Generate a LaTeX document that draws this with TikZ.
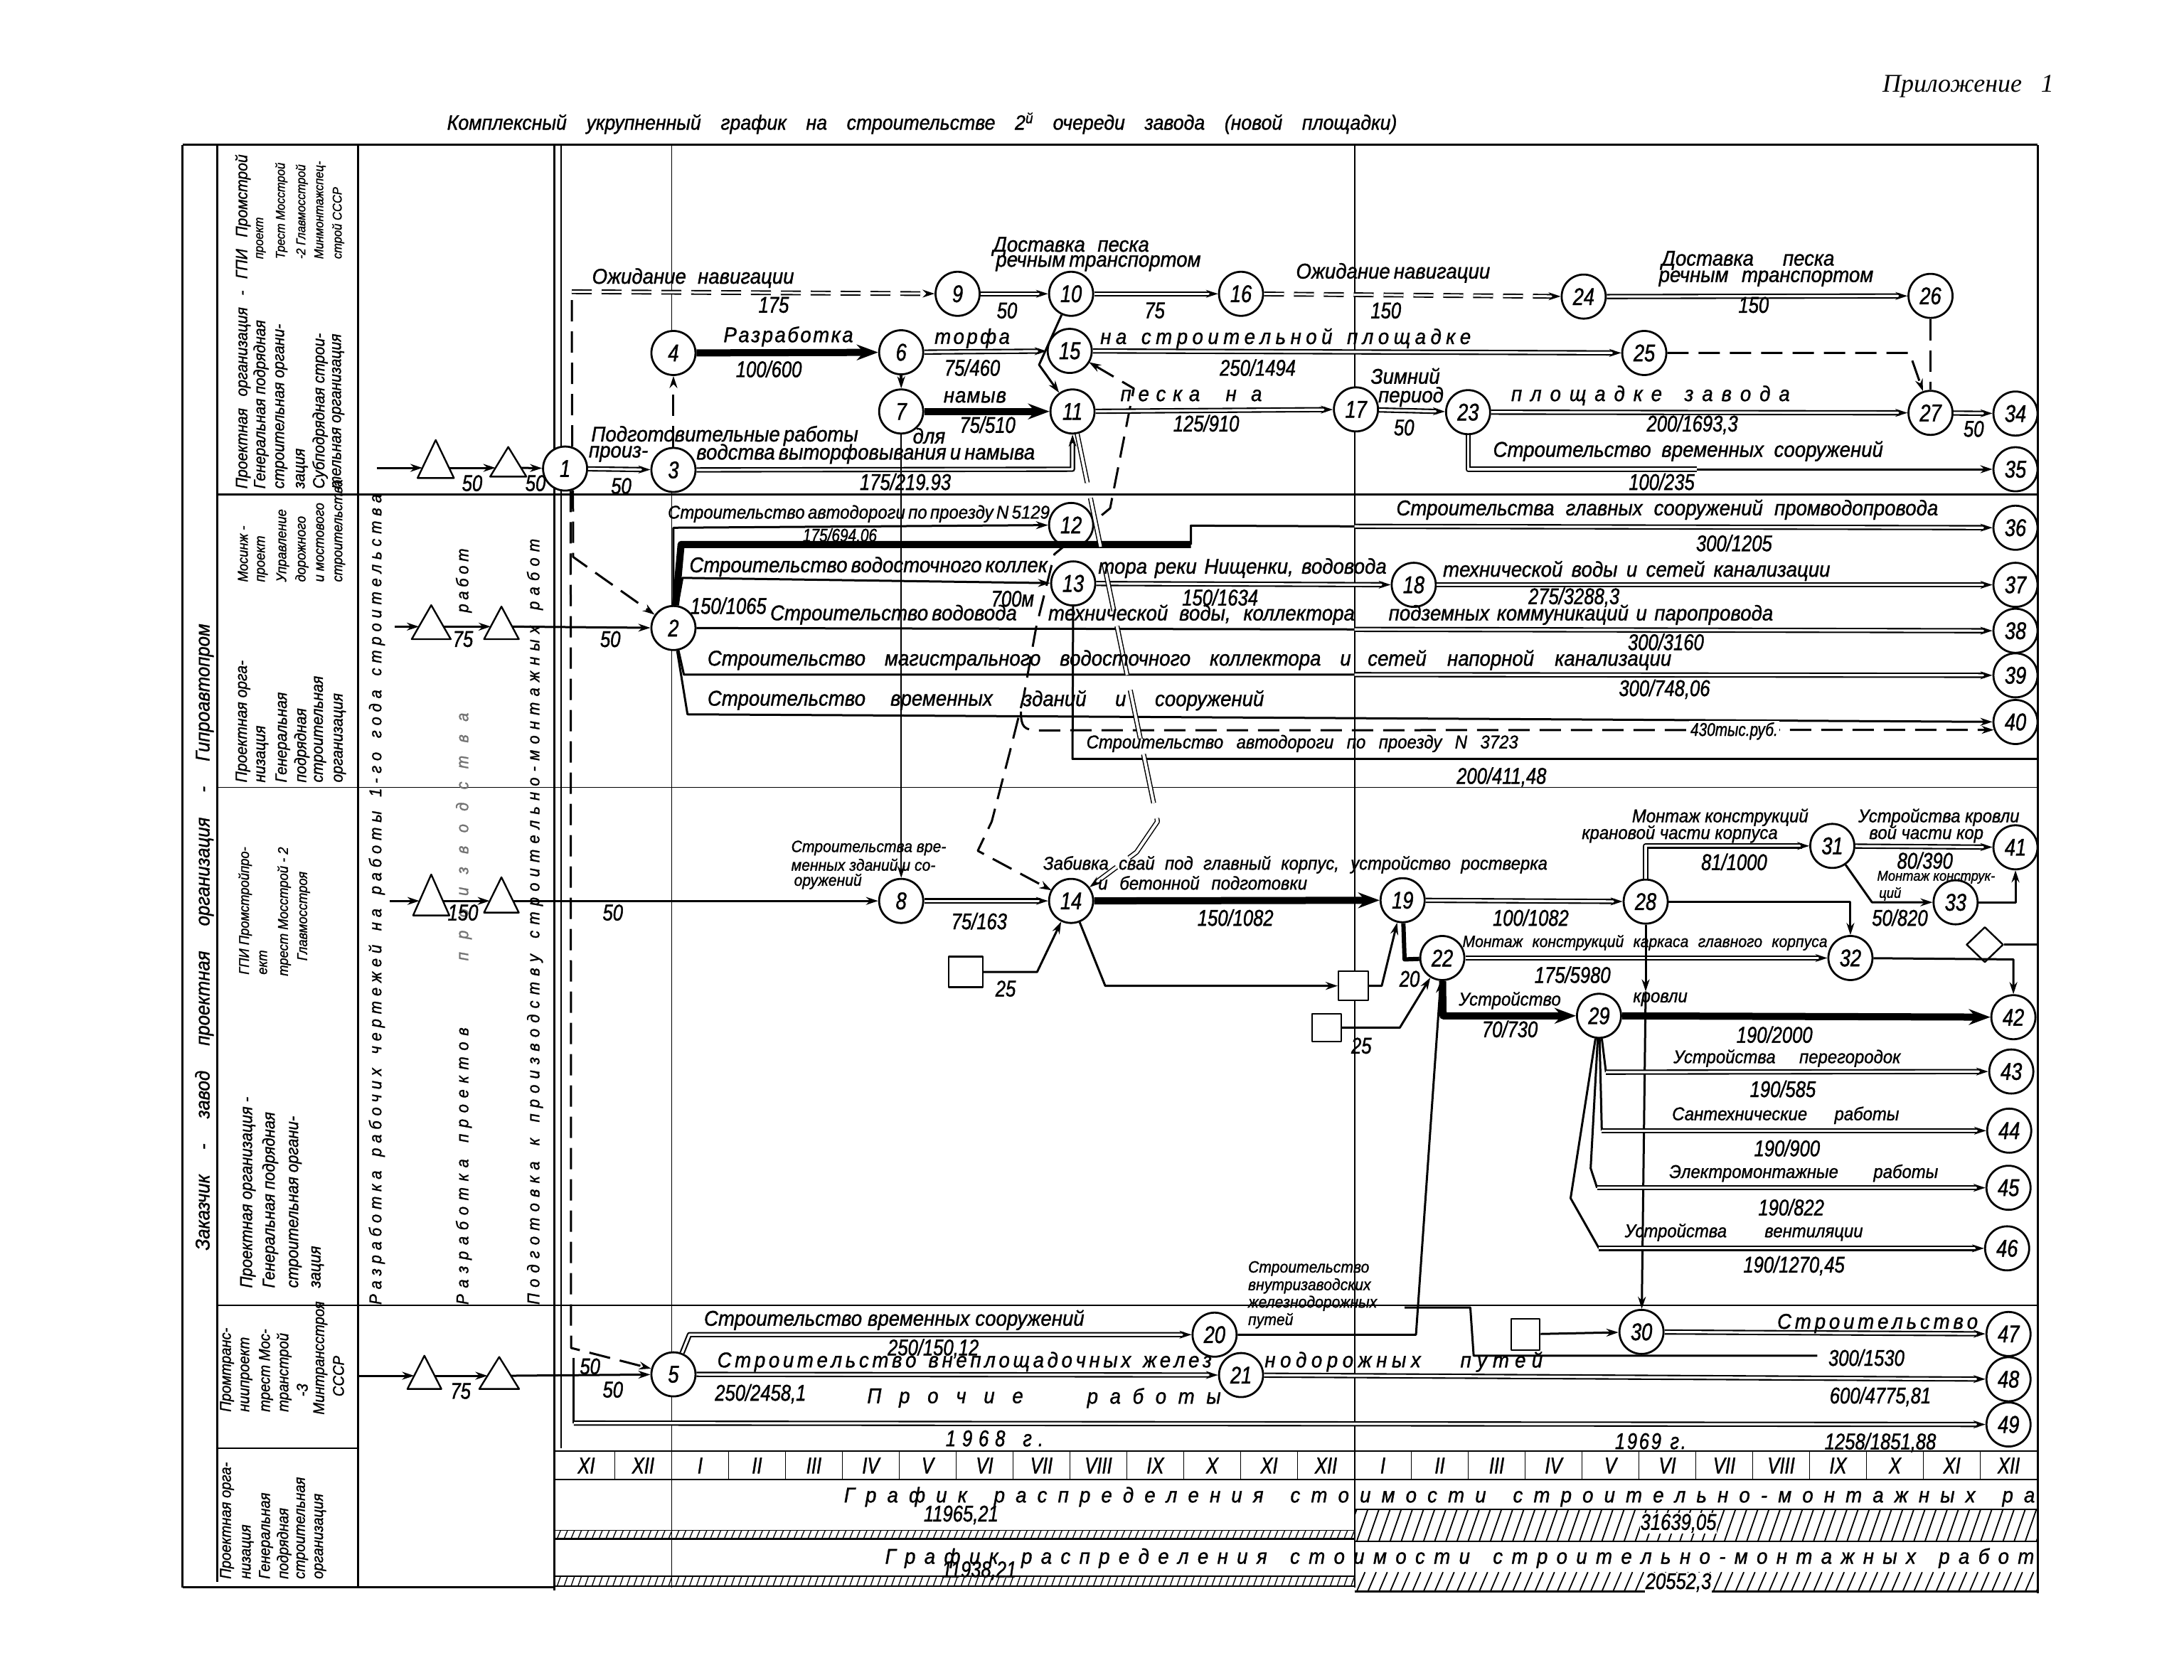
\documentclass[tikz,border=0pt]{standalone}
\usepackage{fontspec}
\usetikzlibrary{arrows.meta,shapes.geometric}
\newfontfamily\hw{Liberation Sans}[FakeStretch=0.92,FakeBold=1.2]
\newfontfamily\hn{Liberation Sans}[FakeStretch=0.8,FakeBold=1.2]
\newfontfamily\hs{Liberation Serif}
\newdimen\du \du=1.9585pt
\newcommand\Dw[2]{\makebox[#1\du][s]{#2}}
\def\lspx#1{\ifx#1\relax\else#1\hfil\expandafter\lspx\fi}
\newcommand\LS[2]{\makebox[#1\du][s]{\lspx#2\relax\unskip}}
\begin{document}
\begin{tikzpicture}[x=\du,y=-\du,line join=round,
  lb/.style={font=\hw\itshape\fontsize{30}{32}\selectfont,inner sep=0pt},
  ls/.style={font=\hw\itshape\fontsize{26}{28}\selectfont,inner sep=0pt},
  nm/.style={font=\hn\itshape\fontsize{32}{34}\selectfont,inner sep=0pt},
  nd/.style={circle,draw,line width=2.8pt,fill=white,minimum size=62pt,inner sep=0pt,font=\hn\itshape\fontsize{34}{36}\selectfont},
  org/.style={font=\hw\itshape\fontsize{23}{25}\selectfont,inner sep=0pt,rotate=90,anchor=west},
  orgs/.style={org,font=\hw\itshape\fontsize{20}{22}\selectfont},
  orgt/.style={org,font=\hw\itshape\fontsize{18}{20}\selectfont},
  orge/.style={org,font=\hw\itshape\fontsize{22}{24}\selectfont},
  ln/.style={line width=3pt},
  thn/.style={line width=1.8pt},
  frm/.style={line width=2.6pt},
  ar/.style={-{Stealth[length=17pt,width=11pt]}},
  barr/.style={-{Stealth[length=30pt,width=22pt]}},
  dbl/.style={double,line width=2.1pt,double distance=3.2pt},
  bld/.style={line width=10pt},
  dsh/.style={line width=3pt,dash pattern=on 30pt off 14pt},
  ddsh/.style={double,line width=1.9pt,double distance=3pt,dash pattern=on 28pt off 14pt},
  ddl/.style={double,line width=1.5pt,double distance=4pt,dash pattern=on 70pt off 22pt},
  bx/.style={draw,line width=2.2pt,fill=white,inner sep=0pt},
  tri/.style={draw,line width=2.4pt,fill=white}]
\useasboundingbox (0,0) rectangle (1568,1206);

% ---------------- header
\node[font=\hs\itshape\fontsize{36}{38}\selectfont,inner sep=0pt] (hdr) at (1413,62) {\Dw{123}{Приложение 1}};
\node[lb,font=\hw\itshape\fontsize{29}{31}\selectfont] (ttl) at (662,88.5) {\Dw{682}{Комплексный укрупненный график на строительстве 2\textsuperscript{й} очереди завода (новой площадки)}};

% ---------------- frame
\draw[line width=3.2pt] (131,104) -- (131,1140);
\draw[frm] (131,104) -- (1463,104);
\draw[frm] (1463,104) -- (1463,1144);
\draw[frm] (156,104) -- (156,1136);
\draw[frm] (257,104) -- (257,1140);
\draw[frm] (398,104) -- (398,1142);
\draw[thn] (403,104) -- (403,1040);
\draw[frm] (131,1140) -- (398,1140);
\draw[frm] (156,355) -- (1463,355);
\draw[thn] (156,565.5) -- (1463,565.5);
\draw[thn] (156,937.5) -- (1463,937.5);
\draw[thn] (156,1040) -- (257,1040);
% year lines
\draw[thn] (482.2,104) -- (482.2,238);
\draw[thn] (482.2,353) -- (482.2,1140);
\draw[thn] (972.5,104) -- (972.5,1140);

% month table
\draw[frm] (398,1042) -- (1463,1042);
\draw[frm] (398,1062.5) -- (1463,1062.5);
\foreach \k in {1,...,25} \draw[thn] ({400.5+\k*40.85},1042) -- ({400.5+\k*40.85},1062.5);
\foreach \m [count=\k from 0] in {XI,XII,I,II,III,IV,V,VI,VII,VIII,IX,X,XI,XII,I,II,III,IV,V,VI,VII,VIII,IX,X,XI,XII}
  \node[nm] (mo\k) at ({400.5+(\k+0.5)*40.85},1052.5) {\m};

% hatched bars
\begin{scope}
\clip (972.5,1084) rectangle (1463,1107);
\foreach \i in {0,...,62} \draw[thn] ({966+8*\i},1107) -- ({974+8*\i},1084);
\end{scope}
\draw[frm] (972.5,1107) -- (1463,1107);
\draw[thn] (972.5,1084) -- (1463,1084);
\draw[thn] (398,1099) -- (972.5,1099);
\draw[frm] (398,1105) -- (972.5,1105);
\foreach \i in {0,...,114} \draw[line width=1.3pt] ({400+5*\i},1105) -- ({402.5+5*\i},1099);
\begin{scope}
\clip (972.5,1129) rectangle (1463,1143);
\foreach \i in {0,...,62} \draw[thn] ({966+8*\i},1143) -- ({972+8*\i},1129);
\end{scope}
\draw[frm] (972.5,1143) -- (1463,1143);
\draw[thn] (398,1132) -- (972.5,1132);
\draw[frm] (398,1139) -- (972.5,1139);
\foreach \i in {0,...,114} \draw[line width=1.3pt] ({400+5*\i},1139) -- ({402.5+5*\i},1132);

% ---------------- left columns (rotated texts)
\node[org,font=\hw\itshape\fontsize{28}{30}\selectfont] (cz) at (146.7,898) {\Dw{450}{Заказчик - завод проектная организация - Гипроавтопром}};
% lane A
\node[org] (oa1) at (174.4,351) {\Dw{240}{Проектная организация - ГПИ Промстрой}};
\node[org] (oa2) at (187.4,351) {Генеральная подрядная};
\node[orgt] (oa3) at (187.4,186) {проект};
\node[org] (oa4) at (202,351) {строительная органи-};
\node[orgt] (oa5) at (202,186) {Трест Мосстрой};
\node[org] (oa6) at (216.7,351) {зация};
\node[orgt] (oa7) at (216.7,186) {-2 Главмосстрой};
\node[org] (oa8) at (229.8,351) {Субподрядная строи-};
\node[orgt] (oa9) at (229.8,186) {Минмонтажспец-};
\node[org] (oa10) at (242.8,351) {тельная организация};
\node[orgt] (oa11) at (242.8,186) {строй СССР};
% lane B
\node[org] (ob1) at (174.4,562) {Проектная орга-};
\node[orgs] (ob2) at (174.4,418) {Мосинж -};
\node[org] (ob3) at (188.4,562) {низация};
\node[orgs] (ob4) at (188.4,418) {проект};
\node[org] (ob5) at (203,562) {Генеральная};
\node[orgs] (ob6) at (203,418) {Управление};
\node[org] (ob7) at (216.7,562) {подрядная};
\node[orgs] (ob8) at (216.7,418) {дорожного};
\node[org] (ob9) at (229.8,562) {строительная};
\node[orgs] (ob10) at (229.8,418) {и мостового};
\node[org] (ob11) at (244,562) {организация};
\node[orgs] (ob12) at (244,418) {строительства};
% lane C
\node[orgs] (oc1) at (176,700) {ГПИ Промстройпро-};
\node[orgs] (oc2) at (189,700) {ект};
\node[orgs] (oc3) at (204,701) {трест Мосстрой - 2};
\node[orgs] (oc4) at (218,690) {Главмосстроя};
\node[org,font=\hw\itshape\fontsize{24}{26}\selectfont] (oc5) at (178,925) {Проектная организация -};
\node[org,font=\hw\itshape\fontsize{24}{26}\selectfont] (oc6) at (194,925) {Генеральная подрядная};
\node[org,font=\hw\itshape\fontsize{24}{26}\selectfont] (oc7) at (212,925) {строительная органи-};
\node[org,font=\hw\itshape\fontsize{24}{26}\selectfont] (oc8) at (228,925) {зация};
% lane D
\node[orge] (od1) at (163,1014) {Промтранс-};
\node[orge] (od2) at (177,1014) {ниипроект};
\node[orge] (od3) at (191,1014) {трест Мос-};
\node[orge] (od4) at (204,1014) {транстрой};
\node[orge] (od5) at (217,1003) {-3};
\node[orge] (od6) at (230,1016) {Минтрансстроя};
\node[orge] (od7) at (243,1003) {СССР};
% lane E
\node[orge] (oe1) at (163,1134) {Проектная орга-};
\node[orge] (oe2) at (178,1134) {низация};
\node[orge] (oe3) at (191,1134) {Генеральная};
\node[orge] (oe4) at (204,1134) {подрядная};
\node[orge] (oe5) at (217,1134) {строительная};
\node[orge] (oe6) at (230,1134) {организация};
% work columns
\node[org,font=\hw\itshape\fontsize{24}{26}\selectfont] (w1) at (270.5,937) {\LS{582}{Разработка~рабочих~чертежей~на~работы~1-го~года~строительства}};
\node[org,font=\hw\itshape\fontsize{24}{26}\selectfont] (w2) at (333,937) {\LS{199}{Разработка~проектов}};
\node[org,font=\hw\itshape\fontsize{24}{26}\selectfont,text=black!55] (w3) at (333,690) {\LS{178}{производства}};
\node[org,font=\hw\itshape\fontsize{24}{26}\selectfont] (w4) at (333,440) {\LS{46}{работ}};
\node[org,font=\hw\itshape\fontsize{24}{26}\selectfont] (w5) at (384,937) {\LS{550}{Подготовка~к~производству~строительно-монтажных~работ}};

% ---------------- triangles
\draw[tri] (312.8,316) -- (299.8,343.3) -- (325.9,343.3) -- cycle;
\draw[tri] (364.9,321) -- (351.9,342.3) -- (377.9,342.3) -- cycle;
\draw[tri] (309.6,434.6) -- (295.6,459) -- (323.6,459) -- cycle;
\draw[tri] (360,435.6) -- (347.5,459) -- (372.5,459) -- cycle;
\draw[tri] (309.6,628) -- (296.6,657.4) -- (322.6,657.4) -- cycle;
\draw[tri] (360,630) -- (347.5,655.4) -- (372.5,655.4) -- cycle;
\draw[tri] (304.7,973.6) -- (292.5,997.5) -- (316.9,997.5) -- cycle;
\draw[tri] (358.4,974.5) -- (344.1,997.5) -- (372.7,997.5) -- cycle;
\coordinate (ia) at (270.5,336); \coordinate (a1l) at (303.3,336); \coordinate (a1r) at (322.3,336); \coordinate (a2l) at (355.7,336); \coordinate (a2r) at (374,336);
\coordinate (ib) at (283.5,450); \coordinate (b1l) at (300.8,450); \coordinate (b1r) at (318.4,450); \coordinate (b2l) at (352.3,450); \coordinate (b2r) at (367.7,450);
\coordinate (ic) at (280,647); \coordinate (c1l) at (301.2,647); \coordinate (c1r) at (318,647); \coordinate (c2l) at (351.6,647); \coordinate (c2r) at (368.4,647);
\coordinate (id) at (257.4,988); \coordinate (d1l) at (297.4,988); \coordinate (d1r) at (312,988); \coordinate (d2l) at (350,988); \coordinate (d2r) at (366.8,988);

% hidden-under-nodes dashed link 15 <-> 14
\coordinate (d15) at (781.8,260.1);
\coordinate (d14) at (754.9,639.4);
\draw[dsh,{Stealth[length=17pt,width=11pt]}-{Stealth[length=17pt,width=11pt]}] (d15) -- (814,279) -- (797,365) -- (757,398) -- (744,450) -- (735,500) -- (725,540) -- (712,590) -- (702,611) -- (d14);

% ---------------- event nodes
\node[nd] (n1) at (405.7,336.5) {1};
\node[nd] (n2) at (483.5,451) {2};
\node[nd] (n3) at (483.5,337.5) {3};
\node[nd] (n4) at (483.5,253.5) {4};
\node[nd] (n5) at (483.5,987) {5};
\node[nd] (n6) at (647,253) {6};
\node[nd] (n7) at (647,295.5) {7};
\node[nd] (n8) at (647,647) {8};
\node[nd] (n9) at (687.5,211) {9};
\node[nd] (n10) at (769,211) {10};
\node[nd] (n11) at (770,295.5) {11};
\node[nd] (n12) at (769,377) {12};
\node[nd] (n13) at (770.5,419) {13};
\node[nd] (n14) at (769,647) {14};
\node[nd] (n15) at (768,252) {15};
\node[nd] (n16) at (891,211) {16};
\node[nd] (n17) at (973.5,294) {17};
\node[nd] (n18) at (1015,420) {18};
\node[nd] (n19) at (1007,646.5) {19};
\node[nd] (n20) at (872,958.5) {20};
\node[nd] (n21) at (891,987.5) {21};
\node[nd] (n22) at (1035.5,688) {22};
\node[nd] (n23) at (1054,296) {23};
\node[nd] (n24) at (1137,213) {24};
\node[nd] (n25) at (1180.5,253.5) {25};
\node[nd] (n26) at (1386,212.5) {26};
\node[nd] (n27) at (1386,296.5) {27};
\node[nd] (n28) at (1181.5,647.5) {28};
\node[nd] (n29) at (1148,729.5) {29};
\node[nd] (n30) at (1178.5,956.5) {30};
\node[nd] (n31) at (1315.5,607.5) {31};
\node[nd] (n32) at (1328.5,688) {32};
\node[nd] (n33) at (1404,648) {33};
\node[nd] (n34) at (1447,297) {34};
\node[nd] (n35) at (1447,337) {35};
\node[nd] (n36) at (1447,379) {36};
\node[nd] (n37) at (1447,420) {37};
\node[nd] (n38) at (1447,453) {38};
\node[nd] (n39) at (1447,485) {39};
\node[nd] (n40) at (1447,518.5) {40};
\node[nd] (n41) at (1447,608.5) {41};
\node[nd] (n42) at (1445.5,730.5) {42};
\node[nd] (n43) at (1444,769.5) {43};
\node[nd] (n44) at (1442.5,812) {44};
\node[nd] (n45) at (1442,853) {45};
\node[nd] (n46) at (1441,896.5) {46};
\node[nd] (n47) at (1442,958) {47};
\node[nd] (n48) at (1442,990.5) {48};
\node[nd] (n49) at (1442,1023) {49};
% boxes and diamond
\node[bx,minimum width=48pt,minimum height=43pt] (bx1) at (693.3,698) {};
\node[bx,minimum width=42pt,minimum height=41pt] (bx2) at (971.7,708) {};
\node[bx,minimum width=41pt,minimum height=39pt] (bx3) at (952.3,738) {};
\node[bx,minimum width=40pt,minimum height=44pt] (bx4) at (1095.3,958.2) {};
\node[diamond,draw,line width=2.4pt,fill=white,inner sep=0pt,minimum width=52pt,minimum height=50pt] (dm) at (1425,678.4) {};

% ---------------- inputs through triangles
\draw[ln,ar] (ia) -- (a1l); \draw[ln,ar] (a1r) -- (a2l); \draw[ln,ar] (a2r) -- (n1);
\draw[ln,ar] (ib) -- (b1l); \draw[ln,ar] (b1r) -- (b2l); \draw[ln,ar] (b2r) -- (n2);
\draw[ln,ar] (ic) -- (c1l); \draw[ln,ar] (c1r) -- (c2l); \draw[ln,ar] (c2r) -- (n8);
\draw[ln,ar] (id) -- (d1l); \draw[ln,ar] (d1r) -- (d2l); \draw[ln,ar] (d2r) -- (n5);

% ---------------- lane A
\coordinate (c1) at (410.5,209.5);
\draw[dsh] (n1.72) -- (c1);
\draw[ddsh,ar] (c1) -- (n9);
\draw[dsh,ar] (n1.-70) -- (411.5,400) -- (n2);
\draw[dsh,ar] (n1.-76) -- (410,968) -- (n5);
\draw[dsh,ar] (n3) -- (n4);
\draw[dbl,ar] (n1) -- (n3);
\draw[dbl,ar] (n3) -- (770,337) -- (n11);
\draw[bld,barr] (n4) -- (n6);
\draw[dbl,ar] (n6) -- (n15);
\draw[line width=4pt,ar] (n6) -- (n7);
\draw[bld,barr] (n7) -- (n11);
\draw[line width=2.2pt,ar] (n7) -- (n8);
\draw[dbl,ar] (n9) -- (n10);
\draw[dbl,ar] (n10) -- (n16);
\draw[ln,ar] (n10) -- (746,262) -- (n11);
\draw[dbl,ar] (n15) -- (n25);
\draw[dbl,ar] (n11) -- (n17);
\draw[ddsh,ar] (n16) -- (n24);
\draw[dbl,ar] (n17) -- (n23);
\draw[dbl,ar] (n23) -- (n27);
\draw[dbl,ar] (n24) -- (n26);
\draw[dsh,ar] (n25) -- (1371,253.5) -- (n27);
\draw[dsh] (n26) -- (n27);
\draw[dbl,ar] (n27) -- (n34);
\coordinate (c35) at (1218,337);
\draw[dbl] (n23) -- (1054,337) -- (c35);
\draw[ln,ar] (c35) -- (n35);

% ---------------- lane B
\draw[ln,ar] (n2) -- (483.5,379) -- (n12);
\draw[bld] (n2) -- (489,391) -- (855,391);
\coordinate (c36) at (972.5,378);
\draw[ln] (855,391) -- (855,377.5) -- (c36);
\draw[dbl,ar] (c36) -- (n36);
\draw[ln,ar] (n2) -- (490,415) -- (n13);
\draw[dbl,ar] (n13) -- (n18);
\draw[dbl,ar] (n18) -- (n37);
\coordinate (c38) at (972.5,452);
\draw[ln] (n2) -- (c38);
\draw[dbl,ar] (c38) -- (n38);
\coordinate (c39) at (972.5,484.5);
\draw[ln] (n2) -- (491,484.5) -- (c39);
\draw[dbl,ar] (c39) -- (n39);
\draw[ln,ar] (n2) -- (493.6,513) -- (n40);
\draw[dsh,ar] (733,511) .. controls (733,522) and (735,524.5) .. (746,524.5) -- (n40.200);
\draw[ln] (n13) -- (770,545) -- (1463,545);
\draw[ddl,ar] (n11) -- (831,590) -- (816,612) -- (n14);

% ---------------- lane C
\draw[dbl,ar] (n8) -- (n14);
\draw[ln,ar] (bx1) -- (744.6,698) -- (n14);
\draw[bld,barr] (n14) -- (n19);
\draw[ln,ar] (n14) -- (793.5,708) -- (bx2);
\draw[ln,ar] (bx2) -- (992,708) -- (n19);
\draw[line width=6pt] (n19) -- (1008.4,689) -- (n22);
\draw[ln,ar] (bx3) -- (1005,738) -- (n22);
\draw[dbl,ar] (n19) -- (n28);
\draw[dbl,ar] (n22) -- (n32);
\draw[bld,barr] (n22) -- (1036,729.5) -- (n29);
\draw[bld,barr] (n29) -- (n42);
\draw[dbl,ar] (n28) -- (1181.5,607.5) -- (n31);
\draw[ln,ar] (n28) -- (1328.5,647.5) -- (n32);
\coordinate (c30) at (1181.5,712);
\draw[ln,ar] (n28) -- (c30);
\draw[ln,ar] (c30) -- (n30);
\draw[dbl,ar] (n31) -- (n41);
\draw[ln,ar] (n31) -- (1344,648) -- (n33);
\draw[ln,ar] (n33) -- (1447,648) -- (n41);
\draw[ln,ar] (n32) -- (1445.5,689) -- (n42);
\draw[ln] (dm) -- (1463,678.4);
\coordinate (c43) at (1153,770);
\draw[ln] (n29) -- (c43);
\draw[dbl,ar] (c43) -- (n43);
\coordinate (c44) at (1150,812);
\draw[ln] (n29) -- (c44);
\draw[dbl,ar] (c44) -- (n44);
\coordinate (c45) at (1146.6,853);
\draw[ln] (n29) -- (1142,839) -- (c45);
\draw[dbl,ar] (c45) -- (n45);
\coordinate (c46) at (1148,896.5);
\draw[ln] (n29) -- (1127.6,860.5) -- (c46);
\draw[dbl,ar] (c46) -- (n46);

% ---------------- lane D
\draw[dbl,ar] (n5) -- (495,958.5) -- (n20);
\draw[dbl,ar] (n5) -- (n21);
\draw[dbl,ar] (n21) -- (n48);
\draw[ln,ar] (n20) -- (1016.6,958.5) -- (n22);
\draw[ln] (1008.4,939) -- (1055.6,939) -- (1058,973.6) -- (1304.7,973.6);
\draw[ln,ar] (bx4) -- (n30);
\draw[dbl,ar] (n30) -- (n47);
\coordinate (c49) at (412,1022);
\draw[ln] (412,975) -- (c49);
\draw[dbl,ar] (c49) -- (n49);

% ---------------- labels lane A
\node[nm] (l1) at (339,347) {50};
\node[nm] (l2) at (384.5,347) {50};
\node[nm] (l3) at (446,349) {50};
\node[lb] (l4) at (497.6,199.7) {\Dw{145}{Ожидание навигации}};
\node[nm] (l5) at (555.5,219) {175};
\node[lb] (l6) at (566,241.7) {\LS{93}{Разработка}};
\node[nm] (l7) at (552,265) {100/600};
\node[lb] (l8) at (520,313) {\Dw{191}{Подготовительные работы}};
\node[lb] (l9) at (444,326) {произ-};
\node[lb] (l10) at (620,326) {\Dw{240}{водства выторфовывания и намыва}};
\node[lb] (l11) at (667,313) {для};
\node[nm] (l12) at (650,346) {175/219.93};
\node[lb] (l13) at (698,243) {\LS{54}{торфа}};
\node[nm] (l14) at (698,264) {75/460};
\node[lb] (l15) at (700,285) {\LS{45}{намыв}};
\node[nm] (l16) at (709,305) {75/510};
\node[nm] (l17) at (723,223) {50};
\node[lb] (l18) at (769,177) {\Dw{112}{Доставка песка}};
\node[lb] (l19) at (786,189) {\Dw{142}{речным транспортом}};
\node[nm] (l20) at (829,223) {75};
\node[lb] (l21) at (923,243) {\LS{266}{на~строительной~площадке}};
\node[nm] (l22) at (903,264) {250/1494};
\node[lb] (l23) at (833,284) {\LS{57}{песка}};
\node[lb] (l24) at (893,284) {\LS{26}{на}};
\node[nm] (l25) at (866,304) {125/910};
\node[lb] (l26) at (1000,196) {\Dw{139}{Ожидание навигации}};
\node[nm] (l27) at (995,223) {150};
\node[lb] (l28) at (1009,270) {Зимний};
\node[lb] (l29) at (1013,285) {период};
\node[nm] (l30) at (1008,307) {50};
\node[lb] (l31) at (1185,284) {\LS{200}{площадке~завода}};
\node[nm] (l32) at (1215,305) {200/1693,3};
\node[lb] (l33) at (1255,187) {\Dw{124}{Доставка песка}};
\node[lb] (l34) at (1268,200) {\Dw{154}{речным транспортом}};
\node[nm] (l35) at (1259,219) {150};
\node[nm] (l36) at (1417,308) {50};
\node[lb] (l37) at (1212,324) {\Dw{280}{Строительство временных сооружений}};
\node[nm] (l38) at (1193,346) {100/235};

% ---------------- labels lane B
\node[nm] (m1) at (332.4,459) {75};
\node[nm] (m2) at (438.2,459) {50};
\node[ls] (m3) at (616,369) {\Dw{273}{Строительство автодороги по проезду N 5129}};
\node[nm,font=\hn\itshape\fontsize{26}{28}\selectfont] (m4) at (603,385) {175/694,06};
\node[lb] (m5) at (1197,366) {\Dw{389}{Строительства главных сооружений промводопровода}};
\node[nm] (m6) at (1245,390) {300/1205};
\node[lb] (m7) at (620,407) {\Dw{250}{Строительство водосточного коллек}};
\node[lb] (m8) at (892,408) {\Dw{207}{тора реки Нищенки, водовода}};
\node[nm] (m9) at (727,430) {700м};
\node[nm] (m10) at (523,435) {150/1065};
\node[nm] (m11) at (876,429) {150/1634};
\node[lb] (m12) at (1175,410) {\Dw{278}{технической воды и сетей канализации}};
\node[nm] (m13) at (1130,429) {275/3288,3};
\node[lb] (m14) at (638,441.5) {\Dw{170}{Строительство водовода}};
\node[lb] (m15) at (862.6,441.5) {\Dw{220}{технической воды, коллектора}};
\node[lb] (m16) at (1135,441.5) {\Dw{276}{подземных коммуникаций и паропровода}};
\node[nm] (m17) at (1196,461) {300/3160};
\node[lb] (m18) at (739,474) {\Dw{462}{Строительство магистрального водосточного коллектора и}};
\node[lb] (m19) at (1091,474) {\Dw{218}{сетей напорной канализации}};
\node[nm] (m20) at (1195,495) {300/748,06};
\node[lb] (m21) at (609,503) {\Dw{202}{Строительство \quad временных}};
\node[lb] (m22) at (821,503) {\Dw{173}{зданий и сооружений}};
\node[nm,fill=white,inner sep=2pt,font=\hn\itshape\fontsize{26}{28}\selectfont] (m23) at (1245,525) {430тыс.руб.};
\node[ls] (m24) at (935,534) {\Dw{310}{Строительство автодороги по проезду N 3723}};
\node[nm] (m25) at (1078,558) {200/411,48};

% ---------------- labels lane C
\node[nm] (k1) at (332.4,655.4) {150};
\node[nm] (k2) at (440,655.4) {50};
\node[ls,anchor=west,font=\hw\itshape\fontsize{23}{25}\selectfont] (k3) at (568,609) {Строительства вре-};
\node[ls,anchor=west,font=\hw\itshape\fontsize{23}{25}\selectfont] (k4) at (568,621) {менных зданий и со-};
\node[ls,anchor=west,font=\hw\itshape\fontsize{23}{25}\selectfont] (k5) at (570,633) {оружений};
\node[nm] (k6) at (703,661.5) {75/163};
\node[nm] (k7) at (722,710) {25};
\node[ls] (k8) at (930,621) {\Dw{362}{Забивка свай под главный корпус, устройство ростверка}};
\node[ls] (k9) at (863.5,634) {\Dw{150}{и бетонной подготовки}};
\node[nm] (k10) at (887,659) {150/1082};
\node[nm] (k11) at (1099,659) {100/1082};
\node[nm] (k12) at (1012,703) {20};
\node[nm] (k13) at (977.4,751) {25};
\node[ls,font=\hw\itshape\fontsize{23}{25}\selectfont] (k14) at (1181,677) {\Dw{262}{Монтаж конструкций каркаса главного корпуса}};
\node[nm] (k15) at (1129,700) {175/5980};
\node[ls] (k16) at (1084,718.6) {Устройство};
\node[nm] (k17) at (1084,739) {70/730};
\node[ls] (k18) at (1192,717.6) {кровли};
\node[nm] (k19) at (1274,743) {190/2000};
\node[ls] (k20) at (1235,587) {Монтаж конструкций};
\node[ls] (k21) at (1206,599) {крановой части корпуса};
\node[nm] (k22) at (1245,619) {81/1000};
\node[ls] (k23) at (1392,587) {Устройства кровли};
\node[ls] (k24) at (1383,599) {вой части кор};
\node[nm] (k25) at (1382,618) {80/390};
\node[ls,font=\hw\itshape\fontsize{20}{22}\selectfont] (k26) at (1390,630) {Монтаж конструк-};
\node[ls,font=\hw\itshape\fontsize{20}{22}\selectfont] (k27) at (1357,642) {ций};
\node[nm] (k28) at (1364,659) {50/820};
\node[ls] (k29) at (1283,760) {\Dw{163}{Устройства перегородок}};
\node[nm] (k30) at (1280,782) {190/585};
\node[ls] (k31) at (1282,801) {\Dw{163}{Сантехнические работы}};
\node[nm] (k32) at (1283,824.5) {190/900};
\node[ls] (k33) at (1295,842.5) {\Dw{193}{Электромонтажные работы}};
\node[nm] (k34) at (1286,867) {190/822};
\node[ls] (k35) at (1252,885) {\Dw{171}{Устройства вентиляции}};
\node[nm] (k36) at (1288,909) {190/1270,45};

% ---------------- labels lane D
\node[nm] (p1) at (330.7,999) {75};
\node[nm] (p2) at (440,998) {50};
\node[nm] (p3) at (423.6,981.3) {50};
\node[ls,anchor=west,font=\hw\itshape\fontsize{23}{25}\selectfont] (p4) at (896,911) {Строительство};
\node[ls,anchor=west,font=\hw\itshape\fontsize{23}{25}\selectfont] (p5) at (896,923.5) {внутризаводских};
\node[ls,anchor=west,font=\hw\itshape\fontsize{23}{25}\selectfont] (p6) at (896,936) {железнодорожных};
\node[ls,anchor=west,font=\hw\itshape\fontsize{23}{25}\selectfont] (p7) at (896,948.5) {путей};
\node[lb] (p8) at (642,948) {\Dw{273}{Строительство временных сооружений}};
\node[nm] (p9) at (670,968.5) {250/150,12};
\node[lb] (p10) at (692.5,978) {\LS{355}{Строительство~внеплощадочных~желез}};
\node[lb] (p11) at (964,978) {\LS{112}{нодорожных}};
\node[lb] (p12) at (1078,978) {\LS{59}{путей}};
\node[nm] (p13) at (546,1001) {250/2458,1};
\node[nm] (p14) at (1350,1003) {600/4775,81};
\node[lb] (p15) at (1348,950.5) {\LS{144}{Строительство}};
\node[nm] (p16) at (1340,975) {300/1530};
\node[lb] (p17) at (678.6,1004) {\LS{112}{Прочие}};
\node[lb] (p18) at (828.5,1004) {\LS{96}{работы}};
\node[nm] (p19) at (1350,1036) {1258/1851,88};

% ---------------- bottom labels
\node[nm] (q1) at (714,1033) {\LS{70}{1968~г.}};
\node[nm] (q2) at (1185,1035) {\LS{51}{1969~г.}};
\node[lb] (q3) at (1033.5,1075) {\LS{855}{График~распределения~стоимости~строительно-монтажных~ра}};
\node[nm] (q4) at (690,1088) {11965,21};
\node[nm,fill=white,inner sep=1pt] (q5) at (1205,1094) {31639,05};
\node[lb] (q6) at (1048,1119) {\LS{825}{График~распределения~стоимости~строительно-монтажных~работ}};
\node[nm] (q7) at (703,1128) {11938,21};
\node[nm,fill=white,inner sep=1pt] (q8) at (1205,1136.5) {20552,3};
\end{tikzpicture}
\end{document}
